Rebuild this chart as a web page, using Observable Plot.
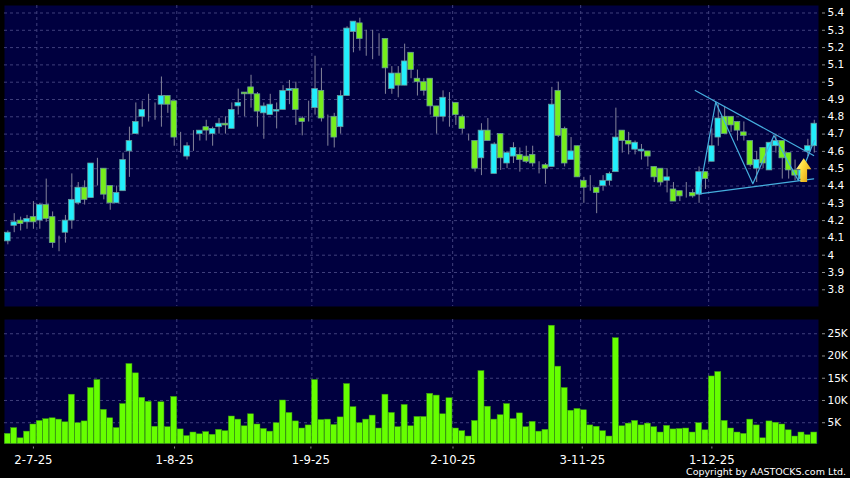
<!DOCTYPE html>
<html>
<head>
<meta charset="utf-8">
<style>
html,body{margin:0;padding:0;background:#000;}
#chart{width:850px;height:478px;overflow:hidden;}
svg{display:block;}
</style>
<script src="https://cdn.jsdelivr.net/npm/d3@7"></script>
<script src="https://cdn.jsdelivr.net/npm/@observablehq/plot@0.6"></script>
</head>
<body>
<div id="chart"></div>
<script>
const open = [
4.08,4.17,4.20,4.19,4.22,4.20,4.29,4.22,4.07,4.13,
4.20,4.30,4.39,4.33,4.53,4.50,4.40,4.30,4.37,4.60,
4.70,4.80,4.84,4.84,4.87,4.92,4.89,4.64,4.57,4.68,
4.70,4.74,4.70,4.74,4.76,4.73,4.86,4.94,4.97,4.93,
4.82,4.81,4.83,4.84,4.95,4.96,4.79,4.81,4.85,4.95,
4.80,4.80,4.74,4.92,5.29,5.34,5.25,5.25,5.25,5.25,
4.96,5.05,4.98,5.17,5.02,5.00,5.02,4.86,4.80,4.88,
4.88,4.80,4.70,4.66,4.56,4.72,4.47,4.70,4.53,4.57,
4.58,4.57,4.58,4.53,4.52,4.51,4.95,4.73,4.55,4.63,
4.43,4.40,4.39,4.40,4.43,4.48,4.72,4.66,4.61,4.60,
4.60,4.51,4.50,4.43,4.38,4.37,4.37,4.36,4.35,4.48,
4.54,4.68,4.80,4.80,4.77,4.71,4.66,4.50,4.62,4.49,
4.63,4.66,4.59,4.49,4.44,4.60,4.63];
const close = [
4.13,4.19,4.18,4.21,4.19,4.29,4.21,4.07,4.07,4.20,
4.32,4.39,4.32,4.53,4.53,4.35,4.30,4.36,4.55,4.66,
4.77,4.84,4.84,4.84,4.92,4.87,4.68,4.64,4.63,4.68,
4.72,4.72,4.73,4.76,4.75,4.84,4.88,4.93,4.93,4.83,
4.86,4.87,4.84,4.95,4.96,4.84,4.77,4.81,4.96,4.79,
4.80,4.68,4.92,5.31,5.35,5.25,5.25,5.25,5.25,5.08,
5.05,4.98,5.12,5.07,5.00,4.95,4.86,4.80,4.91,4.88,
4.81,4.73,4.70,4.50,4.72,4.66,4.64,4.56,4.59,4.62,
4.55,4.54,4.53,4.53,4.50,4.87,4.69,4.53,4.60,4.45,
4.39,4.40,4.36,4.43,4.47,4.68,4.66,4.64,4.65,4.61,
4.57,4.45,4.42,4.45,4.31,4.34,4.37,4.34,4.48,4.44,
4.63,4.79,4.70,4.75,4.72,4.69,4.52,4.55,4.53,4.65,
4.66,4.56,4.49,4.46,4.49,4.63,4.76];
const high = [
4.14,4.24,4.22,4.23,4.31,4.30,4.44,4.25,4.11,4.23,
4.47,4.42,4.43,4.53,4.56,4.50,4.40,4.40,4.59,4.74,
4.88,4.89,4.93,4.88,5.03,4.92,4.89,4.71,4.65,4.72,
4.72,4.78,4.74,4.79,4.80,4.88,4.96,4.94,5.04,4.94,
4.88,4.93,4.88,4.98,5.01,5.00,4.80,4.89,5.15,5.08,
4.81,4.82,4.95,5.32,5.35,5.37,5.30,5.30,5.28,5.25,
5.09,5.09,5.22,5.17,5.07,5.02,5.02,4.86,4.95,4.94,
4.88,4.81,4.70,4.66,4.76,4.79,4.65,4.70,4.60,4.65,
4.62,4.63,4.63,4.54,4.53,4.97,5.00,4.74,4.68,4.63,
4.45,4.46,4.39,4.46,4.48,4.85,4.72,4.71,4.66,4.64,
4.60,4.51,4.50,4.50,4.42,4.37,4.42,4.38,4.51,4.48,
4.73,4.87,4.86,4.80,4.77,4.77,4.66,4.60,4.62,4.65,
4.70,4.66,4.59,4.55,4.51,4.67,4.78];
const low = [
4.06,4.13,4.14,4.15,4.15,4.15,4.19,4.04,4.02,4.07,
4.15,4.29,4.29,4.33,4.40,4.32,4.26,4.30,4.37,4.45,
4.70,4.74,4.77,4.78,4.74,4.82,4.63,4.59,4.55,4.60,
4.66,4.66,4.63,4.70,4.70,4.73,4.81,4.80,4.85,4.74,
4.67,4.81,4.73,4.84,4.87,4.75,4.69,4.77,4.81,4.77,
4.63,4.62,4.70,4.92,5.17,5.18,5.15,5.13,5.15,4.93,
4.93,4.91,4.98,5.02,4.92,4.92,4.81,4.70,4.77,4.74,
4.75,4.70,4.66,4.48,4.46,4.66,4.47,4.49,4.50,4.53,
4.48,4.53,4.51,4.47,4.41,4.51,4.68,4.51,4.55,4.45,
4.30,4.37,4.24,4.37,4.40,4.48,4.59,4.58,4.58,4.55,
4.51,4.42,4.40,4.36,4.31,4.31,4.33,4.33,4.30,4.38,
4.54,4.63,4.70,4.71,4.66,4.66,4.51,4.42,4.50,4.49,
4.59,4.44,4.44,4.43,4.43,4.57,4.59];
const volume = [
2.5,3.8,1.5,3.0,4.6,5.4,5.8,6.0,5.7,5.1,
11.3,4.9,5.3,12.8,14.6,7.9,6.0,3.8,9.2,18.2,
16.1,10.6,9.7,4.1,9.6,4.0,10.8,3.5,2.0,2.8,
2.4,2.9,2.3,3.4,3.1,6.4,5.7,4.2,6.9,4.6,
3.6,3.0,4.9,10.0,7.2,5.3,3.7,4.4,14.6,5.6,
5.7,4.5,6.2,13.7,8.5,4.9,5.7,6.6,3.7,11.3,
7.2,4.0,9.0,4.2,6.3,6.3,11.5,11.1,6.9,10.5,
3.7,3.1,1.9,5.4,16.6,8.6,5.7,6.7,9.2,5.8,
7.1,4.0,5.2,3.0,3.4,26.8,17.6,12.8,7.7,8.1,
7.8,4.4,4.1,3.1,1.9,24.0,4.2,4.8,5.4,4.4,
4.8,4.0,2.8,4.3,3.5,3.6,3.7,2.8,4.9,3.3,
15.4,16.4,5.4,3.7,2.8,2.5,5.7,4.4,1.5,5.3,
5.0,4.6,3.3,1.9,2.8,2.2,2.8];

const priceTicks = [3.8,3.9,4,4.1,4.2,4.3,4.4,4.5,4.6,4.7,4.8,4.9,5,5.1,5.2,5.3,5.4];
const volumeTicks = [5,10,15,20,25];
const dateLabels = ["2-7-25","1-8-25","1-9-25","2-10-25","3-11-25","1-12-25"];
const dateTicks = [4,26.05,47.35,69.55,89.75,110];
const dateGrid = [4.53,26.4,47.5,69.5,89.5,109.5];

const trendUpper = [{x:107.4,y:4.952},{x:125.9,y:4.576}];
const trendLower = [{x:108,y:4.355},{x:125.9,y:4.441}];
const zigzag = [{x:108,y:4.355},{x:110.6,y:4.884},{x:116.4,y:4.413},{x:119.7,y:4.692},{x:123.5,y:4.432},{x:126,y:4.663}];
const signal = [{x:124.35,y:4.49}];

const BG = "#00003f", GRID = "#3f3f7c", AXIS = "#8d8d8d", WICK = "#83839a", EDGE = "#6a9a9a";
const UP = "#22eefc", DOWN = "#76ee1c", BAR = "#66ff00", BAR_EDGE = "#3a9a10", TREND = "#45aede";
const FONT = "'DejaVu Sans', Verdana, sans-serif";

const idx = d3.range(open.length);
const xScale = {type:"linear", domain:[-0.52,126.66], range:[4,818], axis:null, label:null};
const halfBody = 0.44, halfBar = 0.47;
const bodyColor = i => close[i] > open[i] ? UP : close[i] < open[i] ? DOWN : WICK;
const bodyEdge = i => close[i] === open[i] ? WICK : EDGE;

const arrowSymbol = {draw(c, size) {
  const s = Math.sqrt(size / Math.PI) / 10;
  c.moveTo(0, -11.5*s);
  c.lineTo(7.2*s, -1*s);
  c.lineTo(3.2*s, -1*s);
  c.lineTo(3.2*s, 11*s);
  c.lineTo(-3.2*s, 11*s);
  c.lineTo(-3.2*s, -1*s);
  c.lineTo(-7.2*s, -1*s);
  c.closePath();
}};

const price = Plot.plot({
  width:850, height:313,
  marginLeft:4, marginRight:32, marginTop:5, marginBottom:7,
  style:{background:"#000", fontFamily:FONT, overflow:"hidden"},
  x:xScale,
  y:{domain:[3.7035,5.4433], range:[306,5], axis:null, label:null},
  marks:[
    Plot.frame({fill:BG, stroke:null}),
    Plot.ruleY(priceTicks, {stroke:GRID, strokeWidth:1, strokeDasharray:"3,3"}),
    Plot.ruleX(dateGrid, {stroke:GRID, strokeWidth:1, strokeDasharray:"3,3"}),
    Plot.ruleX(idx, {x:i=>i, y1:i=>low[i], y2:i=>high[i], stroke:WICK, strokeWidth:1}),
    Plot.rect(idx, {x1:i=>i-halfBody, x2:i=>i+halfBody, y1:i=>open[i], y2:i=>close[i], fill:bodyColor, stroke:bodyEdge, strokeWidth:0.75}),
    Plot.line(trendUpper, {x:"x", y:"y", stroke:TREND, strokeWidth:1.2}),
    Plot.line(trendLower, {x:"x", y:"y", stroke:TREND, strokeWidth:1.2}),
    Plot.line(zigzag, {x:"x", y:"y", stroke:TREND, strokeWidth:1.2}),
    Plot.dot(signal, {x:"x", y:"y", r:10.6, symbol:arrowSymbol, fill:"url(#gold)", stroke:null}),
    Plot.axisY(priceTicks, {anchor:"right", label:null, tickSize:3, dx:3, tickPadding:3, stroke:AXIS, fill:"#fff", fontSize:10.5, tickFormat:d=>String(d)})
  ]
});

const vol = Plot.plot({
  width:850, height:165,
  marginLeft:4, marginRight:32, marginTop:6, marginBottom:34.5,
  style:{background:"#000", fontFamily:FONT, overflow:"hidden"},
  x:xScale,
  y:{domain:[0.22,28.2], range:[130.5,6], axis:null, label:null},
  marks:[
    Plot.frame({fill:BG, stroke:null}),
    Plot.ruleY(volumeTicks, {stroke:GRID, strokeWidth:1, strokeDasharray:"3,3"}),
    Plot.ruleX(dateGrid, {stroke:GRID, strokeWidth:1, strokeDasharray:"3,3"}),
    Plot.rect(idx, {x1:i=>i-halfBar, x2:i=>i+halfBar, y1:0.22, y2:i=>volume[i], fill:BAR, stroke:BAR_EDGE, strokeWidth:0.5}),
    Plot.axisY(volumeTicks, {anchor:"right", label:null, tickSize:3, dx:3, tickPadding:3, stroke:AXIS, fill:"#fff", fontSize:10.5, tickFormat:d=>d+"K"}),
    Plot.axisX(dateTicks, {anchor:"bottom", label:null, tickSize:2, dy:3, tickPadding:7, stroke:AXIS, fill:"#fff", fontSize:11.7, tickFormat:d=>dateLabels[dateTicks.indexOf(d)]}),
    Plot.text(["Copyright by AASTOCKS.com Ltd."], {frameAnchor:"bottom-right", dx:27.5, dy:31, textAnchor:"end", fill:"#fff", fontSize:9.5})
  ]
});

const defs = d3.select(price).insert("defs", ":first-child");
const grad = defs.append("linearGradient").attr("id","gold").attr("x1","0").attr("y1","0").attr("x2","1").attr("y2","0.6");
grad.append("stop").attr("offset","0").attr("stop-color","#fff8b8");
grad.append("stop").attr("offset","0.45").attr("stop-color","#ffe040");
grad.append("stop").attr("offset","1").attr("stop-color","#e3a514");

document.getElementById("chart").append(price, vol);
</script>
</body>
</html>
